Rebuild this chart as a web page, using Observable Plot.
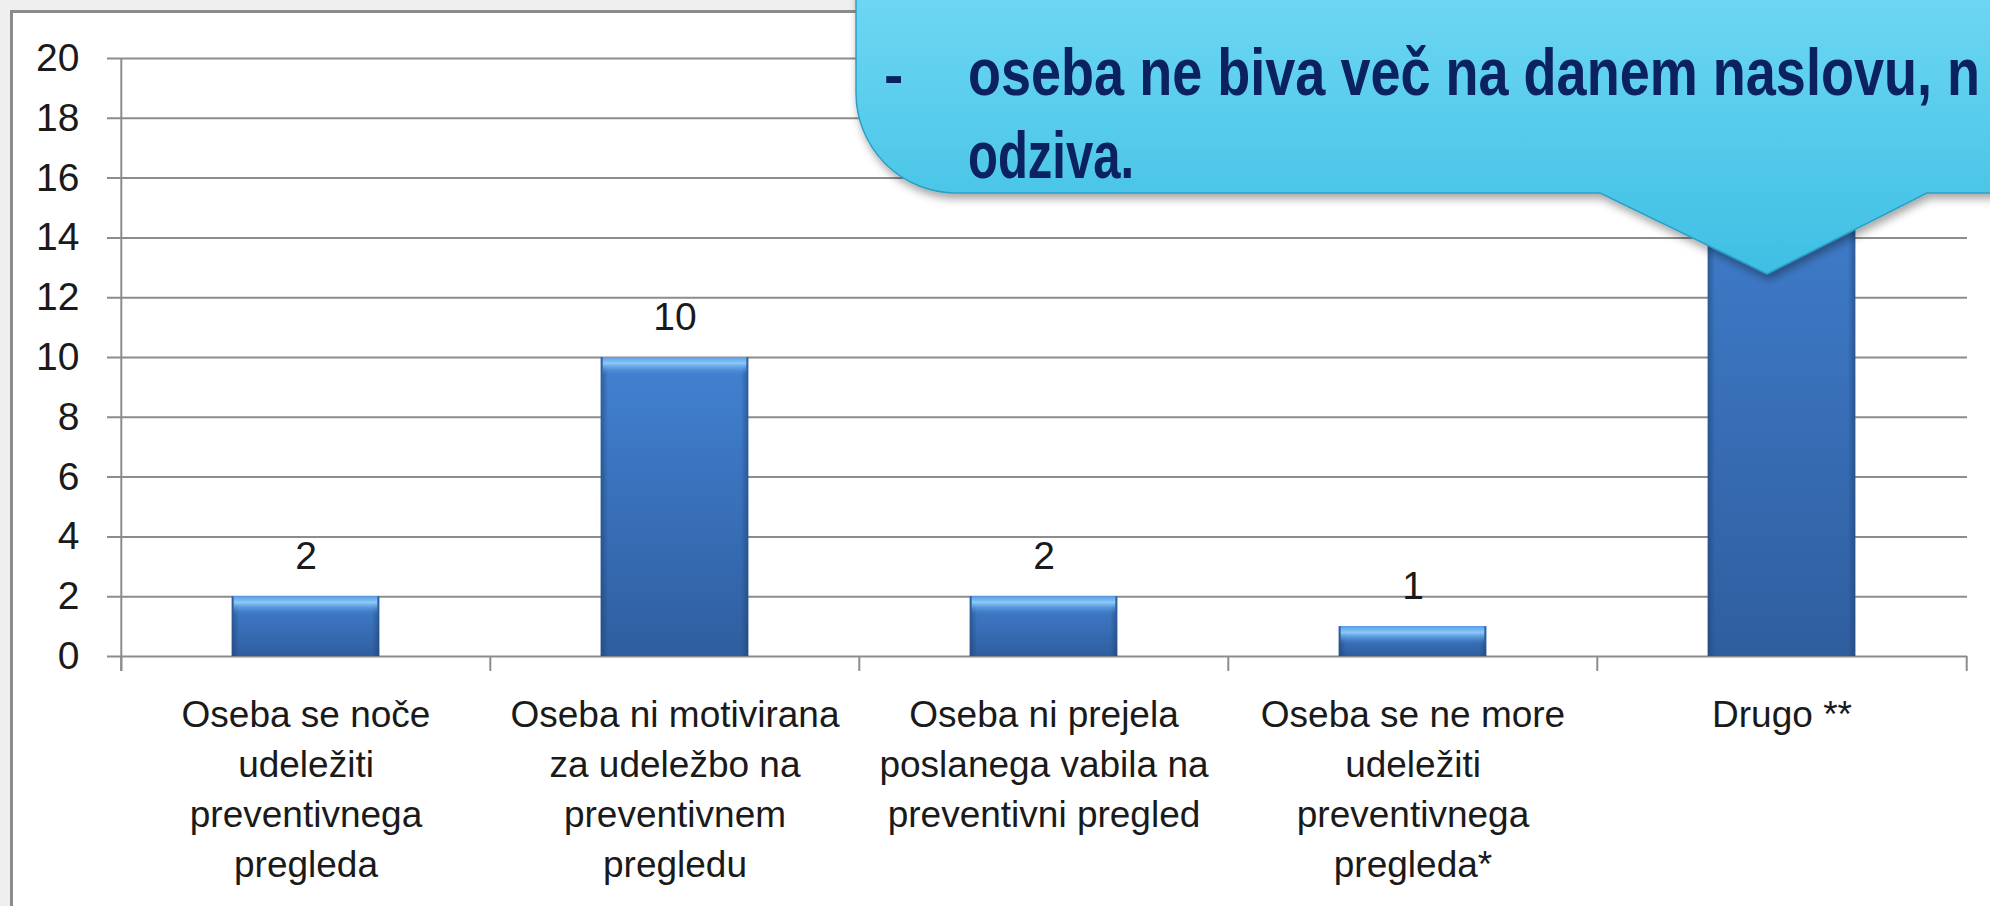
<!DOCTYPE html>
<html>
<head>
<meta charset="utf-8">
<script src="https://cdn.jsdelivr.net/npm/d3@7"></script>
<script src="https://cdn.jsdelivr.net/npm/@observablehq/plot@0.6"></script>
<style>
  html, body { margin: 0; padding: 0; width: 1990px; height: 906px; overflow: hidden; background: #efefef; }
  #box { position: absolute; left: 10px; top: 10px; right: 0; bottom: 0; background: #fff;
         border-left: 3px solid #8b8b8b; border-top: 3px solid #8b8b8b; }
  #chart { position: absolute; left: 0; top: 0; }
  #callout { position: absolute; left: 0; top: 0; pointer-events: none; }
</style>
</head>
<body>
<div id="box"></div>
<div id="chart"></div>
<svg id="callout" width="1990" height="906" xmlns="http://www.w3.org/2000/svg">
  <defs>
    <linearGradient id="callGrad" x1="0" y1="0" x2="0" y2="1">
      <stop offset="0" stop-color="#70d8f4"/>
      <stop offset="1" stop-color="#3ebfe3"/>
    </linearGradient>
    <filter id="callShadow" x="-5%" y="-10%" width="110%" height="130%">
      <feDropShadow dx="2" dy="5" stdDeviation="4" flood-color="#000" flood-opacity="0.35"/>
    </filter>
  </defs>
  <path d="M 856,-20 L 856,93 A 100 100 0 0 0 956,193 L 1600,193 L 1767,274 L 1927,193 L 2010,193 L 2010,-20 Z"
        fill="url(#callGrad)" stroke="#2b9fc2" stroke-width="1.5" filter="url(#callShadow)"/>
  <g font-family="'Liberation Sans', sans-serif" font-weight="bold" fill="#0b2160" font-size="66">
    <text x="884" y="95" font-size="58">-</text>
    <text x="968" y="95" textLength="1012" lengthAdjust="spacingAndGlyphs">oseba ne biva več na danem naslovu, n</text>
    <text x="968" y="178" textLength="166" lengthAdjust="spacingAndGlyphs">odziva.</text>
  </g>
</svg>
<script>
const categories = [
  "Oseba se noče\nudeležiti\npreventivnega\npregleda",
  "Oseba ni motivirana\nza udeležbo na\npreventivnem\npregledu",
  "Oseba ni prejela\nposlanega vabila na\npreventivni pregled",
  "Oseba se ne more\nudeležiti\npreventivnega\npregleda*",
  "Drugo **"
];
const values = [2, 10, 2, 1, 18];
const yTicks = [0, 2, 4, 6, 8, 10, 12, 14, 16, 18, 20];

const data = categories.map((c, i) => ({category: c, value: values[i]}));
// the label of the last bar is hidden behind the callout in the original
const labelled = data.slice(0, -1);

const W = 1990, H = 906;
const mL = 120, mR = 23, mT = 58, mB = 250;
const bw = (W - mL - mR) / categories.length;
const barW = 148;
const inset = (bw - barW) / 2;
const font = "'Liberation Sans', sans-serif";
const grid = "#8c8c8c";

function defs() {
  const ns = "http://www.w3.org/2000/svg";
  const g = document.createElementNS(ns, "defs");
  g.innerHTML = `
    <linearGradient id="barGrad" x1="0" y1="0" x2="0" y2="1">
      <stop offset="0" stop-color="#4282d2"/>
      <stop offset="1" stop-color="#2f5e9f"/>
    </linearGradient>
    <linearGradient id="edgeGrad" x1="0" y1="0" x2="1" y2="0">
      <stop offset="0" stop-color="#1d3f70" stop-opacity="0.55"/>
      <stop offset="0.05" stop-color="#1d3f70" stop-opacity="0"/>
      <stop offset="0.95" stop-color="#1d3f70" stop-opacity="0"/>
      <stop offset="1" stop-color="#1d3f70" stop-opacity="0.55"/>
    </linearGradient>
    <linearGradient id="bevelGrad" x1="0" y1="0" x2="0" y2="1">
      <stop offset="0" stop-color="#5a9de6"/>
      <stop offset="0.35" stop-color="#8ac9f9"/>
      <stop offset="1" stop-color="#4a8ad8" stop-opacity="0"/>
    </linearGradient>`;
  return g;
}

const plot = Plot.plot({
  width: W,
  height: H,
  marginLeft: mL,
  marginRight: mR,
  marginTop: mT,
  marginBottom: mB,
  style: {background: "transparent", fontFamily: font, color: "#1a1a1a"},
  x: {domain: categories, padding: 0, label: null},
  y: {domain: [0, 20], label: null},
  marks: [
    defs,
    Plot.ruleY(yTicks, {y: d => d, stroke: grid, strokeWidth: 2, insetLeft: -13}),
    Plot.ruleX(categories.slice(0, 1), {x: d => d, dx: -bw / 2, y1: 20, y2: -0.5, stroke: grid, strokeWidth: 2}),
    Plot.ruleX(categories, {x: d => d, dx: -bw / 2, y1: 0, y2: -0.5, stroke: grid, strokeWidth: 2}),
    Plot.ruleX(categories.slice(-1), {x: d => d, dx: bw / 2, y1: 0, y2: -0.5, stroke: grid, strokeWidth: 2}),
    Plot.barY(data, {x: "category", y: "value", fill: "url(#barGrad)", insetLeft: inset, insetRight: inset}),
    Plot.barY(data, {x: "category", y: "value", fill: "url(#edgeGrad)", insetLeft: inset, insetRight: inset}),
    Plot.barY(data, {x: "category", y1: "value", y2: "value", insetBottom: -18, fill: "url(#bevelGrad)", insetLeft: inset + 2, insetRight: inset + 2}),
    Plot.text(labelled, {x: "category", y: "value", text: d => String(d.value), dy: -40, fontSize: 39, fill: "#1a1a1a"}),
    Plot.axisY(yTicks, {tickSize: 0, tickPadding: 41, fontSize: 39, label: null, fill: "#1a1a1a"}),
    Plot.axisX({tickSize: 0, tickPadding: 35, fontSize: 37, lineHeight: 50 / 37, label: null, fill: "#1a1a1a"})
  ]
});
document.getElementById("chart").appendChild(plot);
</script>
</body>
</html>
